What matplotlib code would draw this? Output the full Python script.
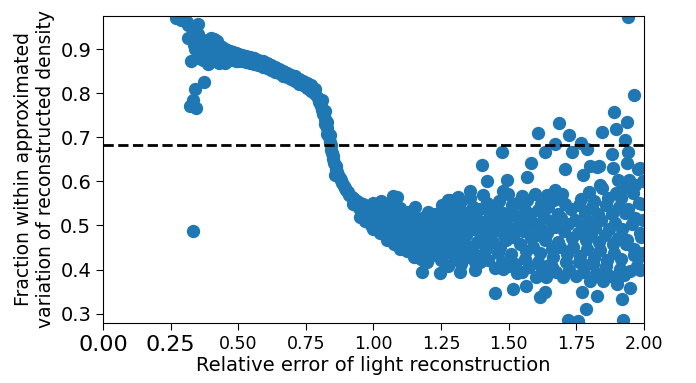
import matplotlib
matplotlib.use("Agg")
import matplotlib.pyplot as plt
import numpy as np

# ---------------- data ----------------
# top-left start of the curve
top_x = [0.27, 0.29, 0.31, 0.315, 0.33, 0.35, 0.34, 0.345, 0.314, 0.325, 0.335, 0.35]
top_y = [0.970, 0.966, 0.962, 0.954, 0.950, 0.958, 0.940, 0.925, 0.925, 0.873, 0.910, 0.935]

# dense blob near x = 0.33 .. 0.50
blob_x = [0.34, 0.35, 0.36, 0.37, 0.38, 0.39, 0.40, 0.41, 0.42, 0.43, 0.44, 0.45, 0.46,
          0.47, 0.48, 0.49, 0.50, 0.35, 0.37, 0.39, 0.41, 0.43, 0.45, 0.47, 0.49,
          0.36, 0.38, 0.40, 0.42, 0.44, 0.46, 0.48, 0.37, 0.40, 0.43, 0.46, 0.38, 0.42]
blob_y = [0.900, 0.910, 0.915, 0.920, 0.918, 0.915, 0.925, 0.922, 0.918, 0.910, 0.905,
          0.900, 0.898, 0.895, 0.893, 0.892, 0.890, 0.880, 0.875, 0.866, 0.872, 0.868,
          0.868, 0.875, 0.872, 0.895, 0.890, 0.885, 0.900, 0.885, 0.880, 0.880, 0.905,
          0.900, 0.895, 0.890, 0.880, 0.878]

# upper band x = 0.50 .. 0.80
band_x = [0.50, 0.515, 0.53, 0.545, 0.56, 0.575, 0.59, 0.605, 0.62, 0.635, 0.65, 0.665,
          0.68, 0.695, 0.71, 0.725, 0.74, 0.755, 0.77, 0.785,
          0.50, 0.515, 0.53, 0.545, 0.56, 0.575, 0.59, 0.605, 0.62, 0.635, 0.65, 0.665,
          0.68, 0.695, 0.71, 0.725, 0.74, 0.755, 0.77, 0.785]
band_y = [0.890, 0.887, 0.884, 0.882, 0.879, 0.876, 0.872, 0.868, 0.864, 0.860, 0.856,
          0.851, 0.847, 0.842, 0.838, 0.833, 0.828, 0.823, 0.818, 0.810,
          0.874, 0.872, 0.870, 0.868, 0.866, 0.863, 0.860, 0.857, 0.853, 0.849, 0.845,
          0.840, 0.836, 0.832, 0.828, 0.822, 0.818, 0.812, 0.805, 0.798]

# steep drop x = 0.79 .. 1.0
drop_x = [0.795, 0.80, 0.805, 0.81, 0.815, 0.82, 0.822, 0.828, 0.83, 0.835, 0.838,
          0.842, 0.845, 0.848, 0.85, 0.852, 0.855, 0.86, 0.862, 0.865, 0.87, 0.875,
          0.88, 0.885, 0.89, 0.895, 0.90, 0.905, 0.91, 0.92, 0.93, 0.94, 0.95, 0.96,
          0.97, 0.98, 0.99, 0.925, 0.945, 0.965, 0.985, 0.95, 0.97, 0.99, 0.858, 0.84,
          0.83, 0.822, 0.81]
drop_y = [0.790, 0.780, 0.770, 0.762, 0.752, 0.742, 0.730, 0.720, 0.708, 0.700, 0.690,
          0.682, 0.672, 0.665, 0.658, 0.650, 0.642, 0.636, 0.628, 0.622, 0.615, 0.608,
          0.602, 0.596, 0.590, 0.585, 0.580, 0.575, 0.570, 0.565, 0.560, 0.555, 0.552,
          0.548, 0.545, 0.540, 0.537, 0.548, 0.540, 0.530, 0.520, 0.520, 0.510, 0.500,
          0.615, 0.705, 0.735, 0.760, 0.785]

# dense cloud x = 1.0 .. 2.0, one row per vertical slice of the picture
cloud_xs = [
    [1.000, 1.006, 0.996, 1.004, 1.000],
    [1.025, 1.020, 1.030, 1.022, 1.028],
    [1.050, 1.056, 1.046, 1.053, 1.048],
    [1.075, 1.070, 1.080, 1.073, 1.078, 1.072],
    [1.100, 1.106, 1.095, 1.103, 1.098],
    [1.125, 1.120, 1.131, 1.122, 1.128],
    [1.150, 1.156, 1.144, 1.153, 1.147, 1.155],
    [1.175, 1.169, 1.181, 1.172, 1.179],
    [1.200, 1.207, 1.195, 1.204, 1.197, 1.203],
    [1.225, 1.219, 1.231, 1.222, 1.229],
    [1.250, 1.257, 1.244, 1.253, 1.246, 1.254],
    [1.275, 1.269, 1.282, 1.272, 1.279, 1.271],
    [1.300, 1.308, 1.294, 1.304, 1.296, 1.305],
    [1.325, 1.318, 1.332, 1.322, 1.329, 1.320],
    [1.350, 1.358, 1.343, 1.354, 1.346, 1.356],
    [1.375, 1.368, 1.383, 1.371, 1.379, 1.369],
    [1.400, 1.409, 1.393, 1.405, 1.396, 1.407],
    [1.425, 1.417, 1.433, 1.421, 1.430, 1.419],
    [1.450, 1.459, 1.442, 1.455, 1.446, 1.457],
    [1.475, 1.467, 1.484, 1.471, 1.480, 1.466, 1.478],
    [1.500, 1.509, 1.492, 1.505, 1.495, 1.511, 1.498],
    [1.525, 1.517, 1.533, 1.521, 1.530],
    [1.550, 1.559, 1.541, 1.555, 1.545, 1.561, 1.548],
    [1.575, 1.566, 1.584, 1.571, 1.580, 1.568],
    [1.600, 1.610, 1.591, 1.605, 1.594, 1.608, 1.597],
    [1.625, 1.616, 1.634, 1.620, 1.631, 1.618],
    [1.650, 1.660, 1.641, 1.655, 1.644, 1.658],
    [1.675, 1.665, 1.684, 1.670, 1.681, 1.667],
    [1.700, 1.711, 1.691, 1.706, 1.694, 1.709, 1.697],
    [1.725, 1.715, 1.735, 1.720, 1.731],
    [1.750, 1.761, 1.740, 1.756, 1.744, 1.759],
    [1.775, 1.765, 1.786, 1.770, 1.781, 1.767],
    [1.800, 1.811, 1.790, 1.806, 1.794, 1.809, 1.797],
    [1.825, 1.814, 1.836, 1.819, 1.831, 1.816],
    [1.850, 1.862, 1.839, 1.856, 1.843, 1.860, 1.846],
    [1.875, 1.864, 1.887, 1.870, 1.882, 1.867],
    [1.900, 1.912, 1.889, 1.906, 1.893, 1.910, 1.896, 1.905],
    [1.925, 1.914, 1.936, 1.919, 1.931, 1.916],
    [1.950, 1.962, 1.939, 1.956, 1.943, 1.960, 1.946],
    [1.975, 1.964, 1.986, 1.969, 1.981, 1.967],
    [1.995, 1.990, 1.998, 1.992, 1.996],
]
cloud_ys = [
    [0.492, 0.507, 0.523, 0.538, 0.551],
    [0.482, 0.498, 0.516, 0.534, 0.556],
    [0.468, 0.489, 0.511, 0.529, 0.548],
    [0.458, 0.481, 0.503, 0.522, 0.544, 0.566],
    [0.447, 0.472, 0.494, 0.517, 0.539],
    [0.441, 0.463, 0.488, 0.512, 0.531],
    [0.428, 0.452, 0.476, 0.499, 0.523, 0.542],
    [0.423, 0.447, 0.471, 0.496, 0.518],
    [0.418, 0.441, 0.462, 0.487, 0.509, 0.531],
    [0.433, 0.458, 0.479, 0.503, 0.527],
    [0.421, 0.444, 0.468, 0.493, 0.514, 0.546],
    [0.409, 0.437, 0.461, 0.483, 0.507, 0.532],
    [0.426, 0.449, 0.474, 0.498, 0.522, 0.543],
    [0.413, 0.442, 0.467, 0.489, 0.516, 0.551],
    [0.428, 0.452, 0.478, 0.503, 0.529, 0.562],
    [0.417, 0.439, 0.463, 0.491, 0.514, 0.541],
    [0.432, 0.458, 0.484, 0.508, 0.537, 0.568],
    [0.421, 0.447, 0.471, 0.497, 0.523, 0.551],
    [0.404, 0.438, 0.462, 0.489, 0.512, 0.538],
    [0.418, 0.452, 0.479, 0.503, 0.528, 0.556, 0.578],
    [0.407, 0.436, 0.468, 0.494, 0.518, 0.547, 0.571],
    [0.413, 0.473, 0.498, 0.524, 0.552],
    [0.394, 0.424, 0.458, 0.487, 0.509, 0.536, 0.566],
    [0.405, 0.442, 0.471, 0.499, 0.527, 0.558],
    [0.384, 0.418, 0.451, 0.479, 0.506, 0.534, 0.572],
    [0.402, 0.437, 0.466, 0.493, 0.519, 0.548],
    [0.411, 0.446, 0.482, 0.511, 0.541, 0.566],
    [0.394, 0.428, 0.463, 0.497, 0.526, 0.557],
    [0.383, 0.417, 0.452, 0.487, 0.518, 0.549, 0.572],
    [0.399, 0.436, 0.471, 0.503, 0.538],
    [0.386, 0.418, 0.452, 0.484, 0.512, 0.546],
    [0.394, 0.431, 0.468, 0.497, 0.529, 0.561],
    [0.373, 0.412, 0.447, 0.481, 0.509, 0.542, 0.577],
    [0.392, 0.427, 0.462, 0.494, 0.527, 0.556],
    [0.374, 0.409, 0.444, 0.478, 0.513, 0.547, 0.586],
    [0.386, 0.421, 0.458, 0.492, 0.527, 0.563],
    [0.368, 0.402, 0.437, 0.471, 0.506, 0.541, 0.573, 0.602],
    [0.388, 0.424, 0.459, 0.493, 0.529, 0.562],
    [0.396, 0.433, 0.468, 0.503, 0.538, 0.574, 0.603],
    [0.408, 0.446, 0.482, 0.517, 0.552, 0.591],
    [0.437, 0.474, 0.512, 0.548, 0.601],
]

# isolated points
out_x = [0.333, 0.340, 0.373, 0.333, 0.320, 0.344,
         1.087, 1.179, 1.190, 1.246, 1.275, 1.283, 1.312, 1.320, 1.357, 1.375, 1.400,
         1.420, 1.394, 1.449, 1.475, 1.479, 1.493, 1.505, 1.516, 1.530, 1.564, 1.567,
         1.582, 1.608, 1.616, 1.634, 1.634, 1.638, 1.641, 1.660, 1.671, 1.671, 1.686,
         1.708, 1.719, 1.723, 1.734, 1.756, 1.767, 1.771, 1.774, 1.782, 1.786, 1.789,
         1.800, 1.826, 1.826, 1.834, 1.837, 1.845, 1.848, 1.882, 1.885, 1.889, 1.896,
         1.900, 1.919, 1.922, 1.922, 1.930, 1.937, 1.937, 1.941, 1.941, 1.948, 1.963,
         1.978, 1.985, 1.985, 1.985]
out_y = [0.488, 0.810, 0.825, 0.785, 0.770, 0.766,
         0.565, 0.395, 0.418, 0.393, 0.558, 0.558, 0.565, 0.395, 0.579, 0.400, 0.637,
         0.600, 0.416, 0.346, 0.667, 0.402, 0.604, 0.423, 0.355, 0.393, 0.362, 0.610,
         0.642, 0.710, 0.337, 0.350, 0.667, 0.383, 0.570, 0.405, 0.581, 0.685, 0.733,
         0.629, 0.285, 0.705, 0.667, 0.283, 0.687, 0.350, 0.615, 0.411, 0.310, 0.674,
         0.635, 0.341, 0.633, 0.635, 0.592, 0.712, 0.389, 0.662, 0.631, 0.757, 0.719,
         0.377, 0.334, 0.285, 0.585, 0.694, 0.735, 0.642, 0.972, 0.667, 0.359, 0.796,
         0.629, 0.631, 0.400, 0.430]

threshold = 0.683

# ---------------- assemble ----------------
cloud_x = [v for row in cloud_xs for v in row]
cloud_y = [v for row in cloud_ys for v in row]

xs = np.array(top_x + blob_x + band_x + drop_x + cloud_x + out_x)
ys = np.array(top_y + blob_y + band_y + drop_y + cloud_y + out_y)

fig = plt.figure(figsize=(6.96, 3.83), dpi=100)
ax = fig.add_axes([0.148, 0.157, 0.777, 0.801])
ax.scatter(xs, ys, s=92, color="#1f77b4", linewidths=0)
ax.axhline(threshold, color="black", linestyle="--", linewidth=2)

ax.set_xlim(0.0, 2.0)
ax.set_ylim(0.279, 0.975)
ax.set_xticks([0.0, 0.25, 0.5, 0.75, 1.0, 1.25, 1.5, 1.75, 2.0])
ax.set_yticks([0.3, 0.4, 0.5, 0.6, 0.7, 0.8, 0.9])
ax.tick_params(axis="y", labelsize=14, length=5)
ax.tick_params(axis="x", labelsize=12.5, length=5)
for i, lab in enumerate(ax.get_xticklabels()):
    if i < 2:
        lab.set_fontsize(16)
ax.set_xlabel("Relative error of light reconstruction", fontsize=14, labelpad=1)
ax.set_ylabel("Fraction within approximated\nvariation of reconstructed density",
              fontsize=13.5, labelpad=4)

fig.savefig("out.png", dpi=100)
